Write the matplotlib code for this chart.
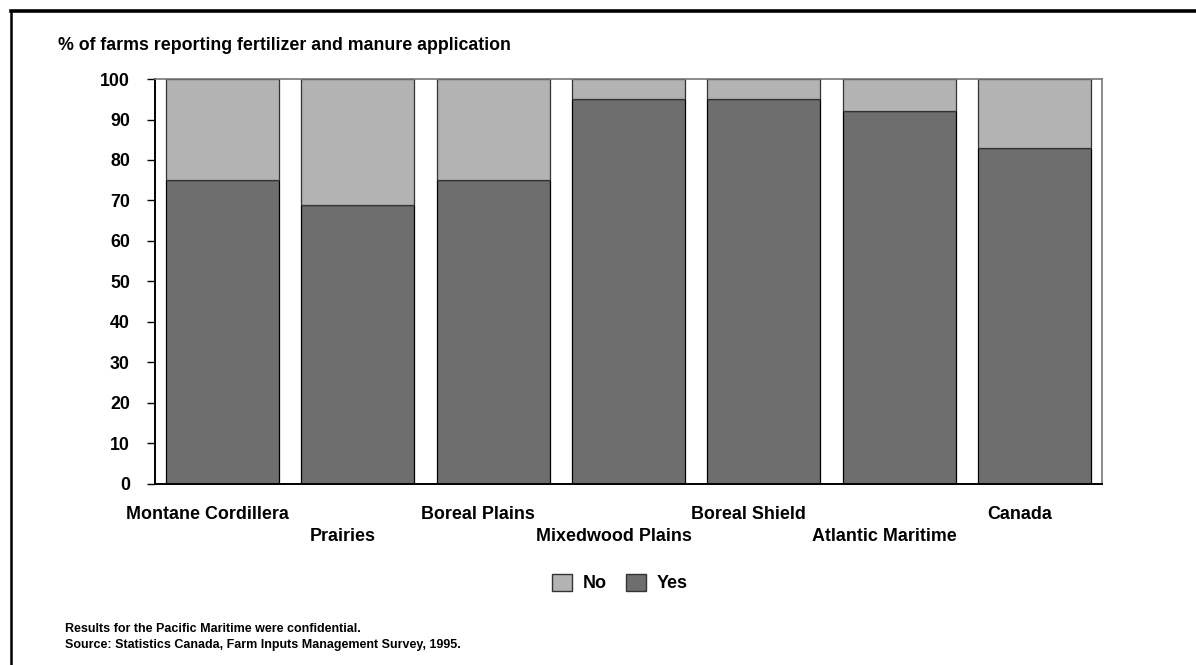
import matplotlib
matplotlib.use("Agg")
import matplotlib.pyplot as plt
from matplotlib.lines import Line2D
from matplotlib.patches import Patch

categories = ["Montane Cordillera", "Prairies", "Boreal Plains", "Mixedwood Plains",
              "Boreal Shield", "Atlantic Maritime", "Canada"]
yes_vals = [75, 69, 75, 95, 95, 92, 83]
no_vals = [25, 31, 25, 5, 5, 8, 17]
yticks = [0, 10, 20, 30, 40, 50, 60, 70, 80, 90, 100]

plt.rcParams['font.family'] = ['Liberation Sans', 'DejaVu Sans']
plt.rcParams['font.weight'] = 'bold'

fig = plt.figure(figsize=(11.96, 6.65), dpi=100)
ax = fig.add_axes([0.1296, 0.2722, 0.9214 - 0.1296, 0.8812 - 0.2722])

c_yes = "#6e6e6e"
c_no = "#b3b3b3"
x = list(range(len(categories)))
w = 0.835
ax.bar(x, yes_vals, width=w, color=c_yes, edgecolor="black", linewidth=0.9, zorder=2)
ax.bar(x, no_vals, width=w, bottom=yes_vals, color=c_no, edgecolor="#333333", linewidth=0.9, zorder=2)

ax.set_xlim(-0.5, len(categories) - 0.5)
ax.set_ylim(0, 100)
ax.set_yticks(yticks)
ax.set_yticklabels([str(t) for t in yticks], fontsize=12.8, fontweight='bold')
ax.tick_params(axis='y', direction='out', length=6, width=1, pad=12, colors='black')
ax.set_xticks([])

for s in ['top', 'right']:
    ax.spines[s].set_color('#777777')
    ax.spines[s].set_linewidth(1.2)
for s in ['left', 'bottom']:
    ax.spines[s].set_color('black')
    ax.spines[s].set_linewidth(1.4)

# staggered category labels
for i, c in enumerate(categories):
    yy = -0.075 if i % 2 == 0 else -0.13
    ax.text(i - 0.11, yy, c, transform=ax.get_xaxis_transform(), ha='center', va='center',
            fontsize=12.9, fontweight='bold')

fig.text(58 / 1196, 1 - 45 / 665, "% of farms reporting fertilizer and manure application",
         fontsize=12.8, fontweight='bold', ha='left', va='center')

handles = [Patch(facecolor=c_no, edgecolor='#333333', label='No'),
           Patch(facecolor=c_yes, edgecolor='#333333', label='Yes')]
fig.legend(handles=handles, loc='center', bbox_to_anchor=(620 / 1196, 1 - 583 / 665), ncol=2,
           frameon=False, prop={'weight': 'bold', 'size': 13}, handlelength=1.1,
           handleheight=1.1, columnspacing=1.1, handletextpad=0.6)

fig.text(65 / 1196, 1 - 629 / 665, "Results for the Pacific Maritime were confidential.",
         fontsize=9, fontweight='bold', ha='left', va='center')
fig.text(65 / 1196, 1 - 645 / 665, "Source: Statistics Canada, Farm Inputs Management Survey, 1995.",
         fontsize=9, fontweight='bold', ha='left', va='center')

# outer frame
fig.add_artist(Line2D([11 / 1196, 11 / 1196], [1 - 11 / 665, 0], transform=fig.transFigure,
                      color='black', linewidth=1.8))
fig.add_artist(Line2D([11 / 1196, 1], [1 - 11 / 665, 1 - 11 / 665], transform=fig.transFigure,
                      color='black', linewidth=2.6))

fig.savefig("out.png", dpi=100)
